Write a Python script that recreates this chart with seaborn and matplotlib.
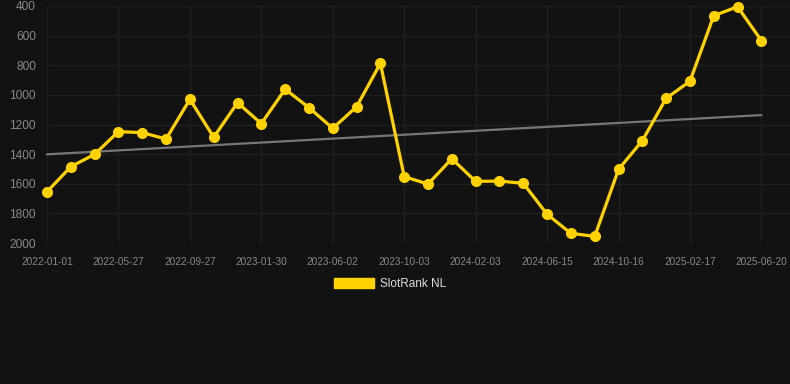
import matplotlib
matplotlib.use("Agg")
import matplotlib.pyplot as plt
import matplotlib.patches as mpatches
import seaborn as sns
import numpy as np
import pandas as pd

# ---- data ----
tick_labels = ["2022-01-01", "2022-05-27", "2022-09-27", "2023-01-30", "2023-06-02",
               "2023-10-03", "2024-02-03", "2024-06-15", "2024-10-16", "2025-02-17",
               "2025-06-20"]
rank = [1654, 1485, 1401, 1248, 1255, 1298, 1030, 1286, 1053, 1194,
        962, 1086, 1226, 1080, 787, 1552, 1602, 1431, 1584, 1582,
        1597, 1806, 1935, 1955, 1503, 1309, 1023, 908, 465, 405, 634]
series_name = "SlotRank NL"
y_ticks = [400, 600, 800, 1000, 1200, 1400, 1600, 1800, 2000]

BG = "#121212"
GOLD = "#FFD200"

sns.set_theme(style="dark")
plt.rcParams["font.family"] = ["Liberation Sans", "DejaVu Sans"]

df = pd.DataFrame({"idx": np.arange(len(rank)), "rank": rank})

fig = plt.figure(figsize=(7.9, 3.84), dpi=100, facecolor=BG)
ax = fig.add_axes([47 / 790, 1 - 243 / 384, 1 - 47 / 790, (243 - 6) / 384])
ax.set_facecolor(BG)

# trend line
sns.regplot(data=df, x="idx", y="rank", scatter=False, ci=None, truncate=True,
            ax=ax, line_kws=dict(color="#777777", lw=1.6, zorder=2))

# main series
sns.lineplot(data=df, x="idx", y="rank", ax=ax, color=GOLD, lw=2.3,
             marker="o", markersize=8, markeredgewidth=0, zorder=3)
for l in ax.lines:
    l.set_clip_on(False)

ax.set_ylim(2000, 400)
ax.set_xlim(0, 31.2)
ax.set_yticks(y_ticks)
ax.set_yticklabels([str(v) for v in y_ticks])
ax.set_xticks(np.arange(0, len(rank), 3))
ax.set_xticklabels(tick_labels)
ax.set_xlabel("")
ax.set_ylabel("")

ax.grid(True, color="#1f1f1f", lw=1.0)
ax.tick_params(axis="y", colors="#888888", labelsize=8.6, length=5, color="#1f1f1f",
               width=1.0, pad=3)
ax.tick_params(axis="x", colors="#888888", labelsize=7.2, length=5, color="#1f1f1f",
               width=1.0, pad=5)
for s in ax.spines.values():
    s.set_visible(False)

handle = mpatches.Patch(color=GOLD, label=series_name)
leg = fig.legend(handles=[handle], loc="center", bbox_to_anchor=(390 / 790, 1 - 284 / 384),
                 frameon=False, fontsize=8.5, handlelength=3.4, handleheight=1.0,
                 handletextpad=0.5)
for t in leg.get_texts():
    t.set_color("#dddddd")

fig.savefig("out.png", dpi=100, facecolor=BG)
